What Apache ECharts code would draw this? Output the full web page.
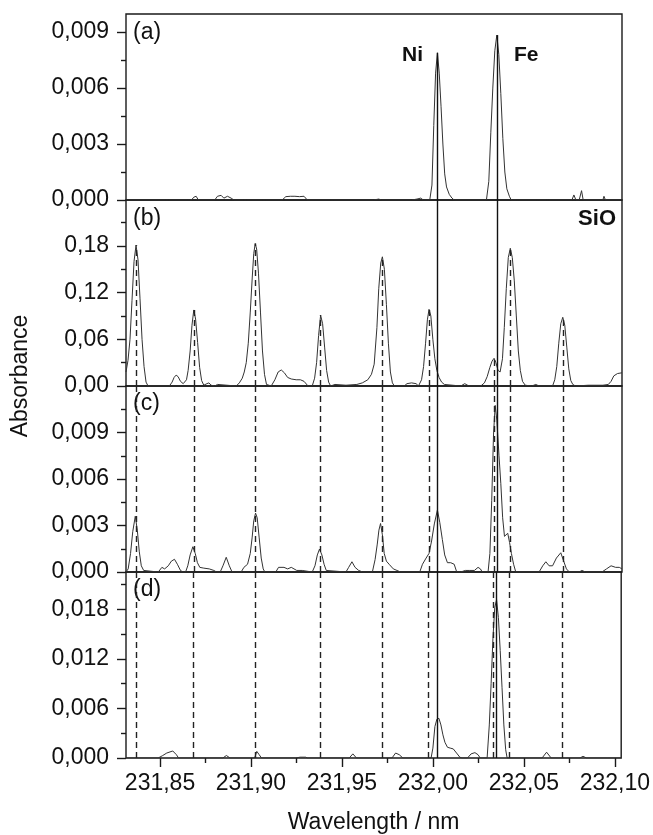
<!DOCTYPE html>
<html>
<head>
<meta charset="utf-8">
<script src="https://cdn.jsdelivr.net/npm/echarts@6/dist/echarts.min.js"></script>
<style>
  html, body { margin: 0; padding: 0; background: #fff; }
  #chart { width: 653px; height: 835px; }
</style>
</head>
<body>
<div id="chart"></div>
<script>
// ---- spectra: [wavelength (nm), absorbance] ----
const spectrumA = [
  [231.8313,0],[231.8530,0],[231.8537,0.0001],[231.8545,0],[231.8650,0],[231.8660,0.00008],[231.8672,0],
  [231.8685,0.00015],[231.8698,0.0002],[231.8710,0],[231.8800,0],[231.8815,0.0002],[231.8835,0.00025],
  [231.8850,0.0001],[231.8870,0.0002],[231.8890,0.0001],[231.8905,0],[231.8960,0],[231.8967,0.0001],[231.8975,0],
  [231.9060,0],[231.9068,0.0001],[231.9076,0],[231.9170,0],[231.9190,0.00018],[231.9215,0.0002],[231.9240,0.0002],
  [231.9265,0.00018],[231.9290,0.0002],[231.9308,0],[231.9435,0],[231.9443,0.0001],[231.9450,0],
  [231.9670,0],[231.9680,0.0001],[231.9700,0.00005],[231.9715,0],[231.9880,0],[231.9890,0.0001],[231.9910,0.00005],
  [231.9930,0.0001],[231.9945,0],
  [231.9980,0],[231.9992,0.0008],[232.0002,0.0040],[232.0012,0.0068],[232.0022,0.00789],[232.0032,0.0068],
  [232.0042,0.0050],[232.0052,0.0030],[232.0062,0.0014],[232.0072,0.0007],[232.0087,0.0003],[232.0102,0.0001],[232.0114,0],
  [232.0291,0],[232.0304,0.0010],[232.0315,0.0036],[232.0326,0.0060],[232.0337,0.0080],[232.0348,0.00884],
  [232.0359,0.0078],[232.0370,0.0057],[232.0381,0.0033],[232.0392,0.0015],[232.0403,0.0006],[232.0417,0.0002],[232.0427,0],
  [232.0455,0],[232.0460,0.0001],[232.0466,0],[232.0565,0],[232.0570,0.0001],[232.0576,0],[232.0620,0],[232.0625,0.0001],
  [232.0631,0],[232.0760,0],[232.0771,0.00027],[232.0782,0],[232.0800,0],[232.0805,0.00005],[232.0809,0],[232.0813,0.0005],
  [232.0822,0],[232.0930,0],[232.0936,0.0002],[232.0944,0],[232.1035,0]
];

const spectrumB = [
  [231.8313,0.018],[231.8324,0.033],[231.8335,0.060],[231.8346,0.110],[231.8357,0.160],[231.8368,0.181],
  [231.8379,0.162],[231.8390,0.112],[231.8401,0.060],[231.8412,0.025],[231.8423,0.005],[231.8434,0],
  [231.8551,0],[231.8566,0.005],[231.8577,0.011],[231.8588,0.014],[231.8599,0.012],[231.8612,0.006],[231.8627,0.003],[231.8636,0.003],
  [231.8645,0.008],[231.8654,0.020],[231.8665,0.045],[231.8675,0.078],[231.8685,0.0977],[231.8695,0.086],
  [231.8706,0.056],[231.8717,0.024],[231.8728,0.007],[231.8740,0.001],
  [231.8757,0.003],[231.8768,0.004],[231.8780,0.001],[231.8800,0],[231.8815,0.002],[231.8825,0],
  [231.8918,0],[231.8935,0.004],[231.8951,0.010],[231.8962,0.018],[231.8973,0.030],[231.8984,0.055],[231.8995,0.095],
  [231.9006,0.140],[231.9014,0.170],[231.9022,0.183],[231.9030,0.176],[231.9040,0.145],[231.9051,0.095],
  [231.9062,0.045],[231.9073,0.015],[231.9084,0.002],[231.9090,0],
  [231.9110,0],[231.9130,0.008],[231.9148,0.018],[231.9165,0.0206],[231.9182,0.017],[231.9200,0.011],[231.9220,0.009],
  [231.9247,0.008],[231.9270,0.008],[231.9290,0.006],[231.9312,0],
  [231.9335,0],[231.9348,0.010],[231.9359,0.030],[231.9370,0.065],[231.9381,0.091],[231.9392,0.080],[231.9403,0.050],
  [231.9414,0.020],[231.9425,0.005],[231.9436,0],
  [231.9460,0.002],[231.9520,0.001],[231.9580,0.002],[231.9610,0.004],[231.9640,0.008],[231.9660,0.015],[231.9675,0.028],
  [231.9690,0.075],[231.9700,0.125],[231.9711,0.158],[231.9720,0.166],[231.9731,0.150],[231.9742,0.105],[231.9753,0.055],
  [231.9764,0.018],[231.9775,0.004],[231.9786,0],
  [231.9840,0],[231.9855,0.003],[231.9880,0.004],[231.9905,0.003],[231.9918,0],
  [231.9935,0.008],[231.9946,0.025],[231.9957,0.055],[231.9967,0.085],[231.9976,0.0985],[231.9986,0.090],[231.9997,0.060],
  [232.0008,0.035],[232.0019,0.020],[232.0031,0.011],[232.0045,0.005],[232.0060,0.002],[232.0070,0],
  [232.0150,0],[232.0172,0.003],[232.0195,0],
  [232.0260,0],[232.0280,0.004],[232.0295,0.012],[232.0310,0.024],[232.0322,0.032],[232.0333,0.0356],[232.0343,0.030],
  [232.0355,0.020],[232.0366,0.018],[232.0379,0.035],[232.0389,0.075],[232.0400,0.125],[232.0411,0.165],[232.0422,0.177],
  [232.0433,0.165],[232.0444,0.135],[232.0455,0.090],[232.0466,0.045],[232.0477,0.020],[232.0489,0.006],[232.0504,0.001],
  [232.0540,0],[232.0562,0.002],[232.0580,0],
  [232.0654,0],[232.0666,0.008],[232.0677,0.025],[232.0688,0.055],[232.0699,0.080],[232.0710,0.0883],[232.0721,0.078],
  [232.0732,0.050],[232.0743,0.022],[232.0754,0.007],[232.0765,0.002],[232.0780,0],
  [232.0850,0.001],[232.0930,0.001],[232.0960,0.002],[232.0975,0.006],[232.0990,0.013],[232.1010,0.016],[232.1035,0.017]
];

const spectrumC = [
  [231.8313,0],[231.8325,0.0002],[231.8338,0.0012],[231.8350,0.0026],[231.8364,0.0036],[231.8375,0.0027],
  [231.8386,0.0013],[231.8397,0.0004],[231.8410,0.0001],[231.8420,0],
  [231.8490,0],[231.8510,0.0003],[231.8525,0.0002],[231.8545,0.0004],[231.8562,0.0007],[231.8579,0.00082],
  [231.8595,0.0005],[231.8612,0.0001],[231.8625,0],
  [231.8640,0],[231.8652,0.0004],[231.8665,0.0011],[231.8680,0.00163],[231.8693,0.0012],[231.8705,0.0006],
  [231.8718,0.0003],[231.8740,0.00025],[231.8770,0.0002],[231.8795,0.0001],[231.8810,0],
  [231.8830,0],[231.8845,0.0004],[231.8863,0.00095],[231.8880,0.0004],[231.8895,0],
  [231.8945,0],[231.8960,0.0003],[231.8980,0.0005],[231.8995,0.0012],[231.9005,0.0022],[231.9014,0.0033],
  [231.9024,0.0038],[231.9033,0.0035],[231.9044,0.0022],[231.9055,0.0009],[231.9066,0.0002],[231.9075,0],
  [231.9135,0],[231.9150,0.0003],[231.9180,0.0003],[231.9200,0.0002],[231.9220,0.0003],[231.9250,0.0001],
  [231.9280,0.0001],[231.9290,0],
  [231.9335,0],[231.9350,0.0004],[231.9363,0.0011],[231.9375,0.00148],[231.9388,0.0011],[231.9400,0.0005],
  [231.9412,0.0001],[231.9422,0],
  [231.9520,0],[231.9535,0.0003],[231.9553,0.00066],[231.9570,0.0003],[231.9590,0.0001],[231.9612,0],
  [231.9665,0],[231.9680,0.0008],[231.9692,0.0018],[231.9701,0.0027],[231.9710,0.00313],[231.9720,0.0024],
  [231.9730,0.0012],[231.9742,0.0007],[231.9757,0.0005],[231.9780,0.0002],[231.9800,0.0001],[231.9820,0],
  [231.9925,0],[231.9940,0.0005],[231.9960,0.0009],[231.9976,0.0012],[231.9990,0.0020],[232.0005,0.0031],
  [232.0022,0.0040],[232.0035,0.0032],[232.0049,0.0021],[232.0062,0.0011],[232.0077,0.0006],[232.0095,0.0006],
  [232.0114,0.0005],[232.0128,0],
  [232.0150,0],[232.0175,0.0001],[232.0200,0.0001],[232.0225,0.0001],[232.0245,0.0003],[232.0258,0.0002],[232.0268,0],
  [232.0300,0],[232.0310,0.0012],[232.0320,0.0046],[232.0330,0.0089],[232.0339,0.01075],[232.0348,0.0098],
  [232.0360,0.0075],[232.0370,0.0057],[232.0380,0.0035],[232.0390,0.0023],[232.0400,0.0024],[232.0408,0.0025],
  [232.0418,0.0019],[232.0428,0.0012],[232.0440,0.0005],[232.0452,0],
  [232.0580,0],[232.0600,0.0004],[232.0617,0.00066],[232.0635,0.0004],[232.0654,0.0004],[232.0675,0.0009],
  [232.0699,0.00124],[232.0715,0.0007],[232.0730,0.0002],[232.0746,0],
  [232.0800,0],[232.0815,0.0001],[232.0835,0],
  [232.0925,0],[232.0950,0.0002],[232.0975,0.0004],[232.1000,0.0003],[232.1020,0.0003],[232.1035,0.0002]
];

const spectrumD = [
  [231.8313,0],[231.8490,0],[231.8515,0.0003],[231.8537,0.0006],[231.8570,0.00085],[231.8590,0.0004],[231.8602,0],
  [231.8735,0],[231.8745,0.0002],[231.8755,0],[231.8845,0],[231.8865,0.0003],[231.8885,0],
  [231.9020,0],[231.9032,0.0008],[231.9045,0.0004],[231.9058,0],
  [231.9245,0],[231.9270,0.0001],[231.9300,0.0001],[231.9312,0],
  [231.9540,0],[231.9560,0.0005],[231.9580,0],[231.9775,0],[231.9795,0.0006],[231.9815,0.0004],[231.9835,0],
  [231.9990,0],[232.0000,0.0012],[232.0011,0.0038],[232.0022,0.0047],[232.0033,0.0048],[232.0044,0.0040],
  [232.0055,0.0028],[232.0066,0.0019],[232.0080,0.0013],[232.0095,0.0012],[232.0112,0.0011],[232.0130,0.0006],
  [232.0148,0.0001],[232.0160,0],
  [232.0190,0],[232.0210,0.0005],[232.0231,0.00065],[232.0248,0.0004],[232.0260,0],
  [232.0298,0],[232.0310,0.0040],[232.0320,0.0090],[232.0330,0.0145],[232.0340,0.0182],[232.0350,0.01915],
  [232.0360,0.0170],[232.0370,0.0130],[232.0380,0.0085],[232.0390,0.0040],[232.0400,0.0010],[232.0408,0],
  [232.0600,0],[232.0625,0.0007],[232.0650,0],
  [232.0808,0],[232.0825,0.0002],[232.0845,0],
  [232.0945,0],[232.0953,0.0002],[232.0962,0],[232.1035,0]
];

// ---- reference lines ----
const lineNames = ['Ni', 'Fe'];
const lineWavelengths = [232.0022, 232.0348];
const lineTopsA = [0.00789, 0.00884];       // peak heights in panel (a)
const sioWavelengths = [231.8368, 231.8685, 231.9022, 231.9381, 231.9720, 231.9976, 232.0333, 232.0422, 232.0710];
const sioTopsB = [0.181, 0.0977, 0.183, 0.091, 0.166, 0.0985, 0.0356, 0.177, 0.0883];

// ---- axes ----
const xRange = [231.8313, 232.1035];
const xMajorTicks = [231.85, 231.90, 231.95, 232.00, 232.05, 232.10];
const xMinorTicks = [231.875, 231.925, 231.975, 232.025, 232.075];

const yMaxes = [0.00997, 0.239, 0.012, 0.0225];
const yMajorTicks = [
  [0, 0.003, 0.006, 0.009],
  [0, 0.06, 0.12, 0.18],
  [0, 0.003, 0.006, 0.009],
  [0, 0.006, 0.012, 0.018]
];
const yMinorTicks = [
  [0.0015, 0.0045, 0.0075],
  [0.03, 0.09, 0.15, 0.21],
  [0.0015, 0.0045, 0.0075, 0.0105],
  [0.003, 0.009, 0.015, 0.021]
];
const yDigits = [3, 2, 3, 3];
const panelLabels = ['(a)', '(b)', '(c)', '(d)'];
const spectra = [spectrumA, spectrumB, spectrumC, spectrumD];

// ---- layout ----
const FONT = '"Liberation Sans", Arial, Helvetica, sans-serif';
const FS = 23;
const INK = '#111';
const GRID_LEFT = 126, GRID_WIDTH = 496, PANEL_H = 186, GRID_TOP = 14;
const comma = (v, d) => v.toFixed(d).replace('.', ',');

const grids = [], xAxes = [], yAxes = [], series = [];

spectra.forEach((spec, i) => {
  const last = i === spectra.length - 1;
  grids.push({
    left: GRID_LEFT, top: GRID_TOP + i * PANEL_H, width: GRID_WIDTH, height: PANEL_H,
    show: true, borderColor: '#1a1a1a', borderWidth: 1.4, backgroundColor: 'transparent'
  });

  const xMain = xAxes.length;
  xAxes.push({
    gridIndex: i, type: 'value', position: 'bottom', min: xRange[0], max: xRange[1],
    axisLine: { show: false },
    splitLine: { show: false },
    axisTick: { show: last, customValues: xMajorTicks, length: 9, lineStyle: { color: '#1a1a1a', width: 1.4 } },
    axisLabel: {
      show: last, customValues: xMajorTicks, margin: 14,
      fontSize: FS, fontFamily: FONT, color: INK,
      formatter: v => comma(v, 2)
    },
    name: last ? 'Wavelength / nm' : '',
    nameLocation: 'middle', nameGap: 53,
    nameTextStyle: { fontSize: FS, fontFamily: FONT, color: INK }
  });
  if (last) {
    xAxes.push({
      gridIndex: i, type: 'value', position: 'bottom', min: xRange[0], max: xRange[1],
      axisLine: { show: false }, splitLine: { show: false },
      axisTick: { show: true, customValues: xMinorTicks, length: 5, lineStyle: { color: '#1a1a1a', width: 1.4 } },
      axisLabel: { show: false, customValues: xMinorTicks }
    });
  }

  const yMain = yAxes.length;
  yAxes.push({
    gridIndex: i, type: 'value', position: 'left', min: 0, max: yMaxes[i],
    axisLine: { show: false }, splitLine: { show: false },
    axisTick: { show: true, customValues: yMajorTicks[i], length: 9, lineStyle: { color: '#1a1a1a', width: 1.4 } },
    axisLabel: {
      show: true, customValues: yMajorTicks[i], margin: 17,
      fontSize: FS, fontFamily: FONT, color: INK,
      formatter: v => comma(v, yDigits[i])
    }
  });
  yAxes.push({
    gridIndex: i, type: 'value', position: 'left', offset: 0, min: 0, max: yMaxes[i],
    axisLine: { show: false }, splitLine: { show: false },
    axisTick: { show: true, customValues: yMinorTicks[i], length: 5, lineStyle: { color: '#1a1a1a', width: 1.4 } },
    axisLabel: { show: false, customValues: yMinorTicks[i] }
  });

  // vertical guide lines: Ni/Fe solid, SiO dashed
  const solid = lineWavelengths.map((w, k) => [
    { coord: [w, 0] },
    { coord: [w, i === 0 ? lineTopsA[k] : yMaxes[i]] }
  ]);
  const dashed = i === 0 ? [] : sioWavelengths.map((w, k) => [
    { coord: [w, 0], lineStyle: { type: [6, 4], color: '#222', width: 1.4 } },
    { coord: [w, i === 1 ? sioTopsB[k] : yMaxes[i]] }
  ]);

  series.push({
    type: 'line', xAxisIndex: xMain, yAxisIndex: yMain,
    data: spec, showSymbol: false, symbol: 'none', clip: true,
    lineStyle: { color: '#333', width: 1 },
    silent: true, animation: false,
    markLine: {
      silent: true, symbol: ['none', 'none'], animation: false,
      label: { show: false },
      lineStyle: { type: 'solid', color: '#111', width: 1.4 },
      data: solid.concat(dashed)
    }
  });
});

const labelY = [33, 219, 404, 590];
const graphic = panelLabels.map((t, i) => ({
  type: 'text', x: 133, y: labelY[i],
  style: { text: t, font: FS + 'px ' + FONT, fill: INK, verticalAlign: 'middle' }
}));
graphic.push(
  { type: 'text', x: 402, y: 55, style: { text: lineNames[0], font: 'bold 21px ' + FONT, fill: INK, verticalAlign: 'middle' } },
  { type: 'text', x: 514, y: 55, style: { text: lineNames[1], font: 'bold 21px ' + FONT, fill: INK, verticalAlign: 'middle' } },
  { type: 'text', x: 616, y: 219, style: { text: 'SiO', font: 'bold 22px ' + FONT, fill: INK, align: 'right', verticalAlign: 'middle' } },
  { type: 'text', x: 21, y: 376, rotation: Math.PI / 2,
    style: { text: 'Absorbance', font: FS + 'px ' + FONT, fill: INK, align: 'center', verticalAlign: 'middle' } }
);

const chart = echarts.init(document.getElementById('chart'), null, { renderer: 'canvas' });
chart.setOption({
  animation: false,
  backgroundColor: '#fff',
  grid: grids,
  xAxis: xAxes,
  yAxis: yAxes,
  series: series,
  graphic: graphic
});
</script>
</body>
</html>
